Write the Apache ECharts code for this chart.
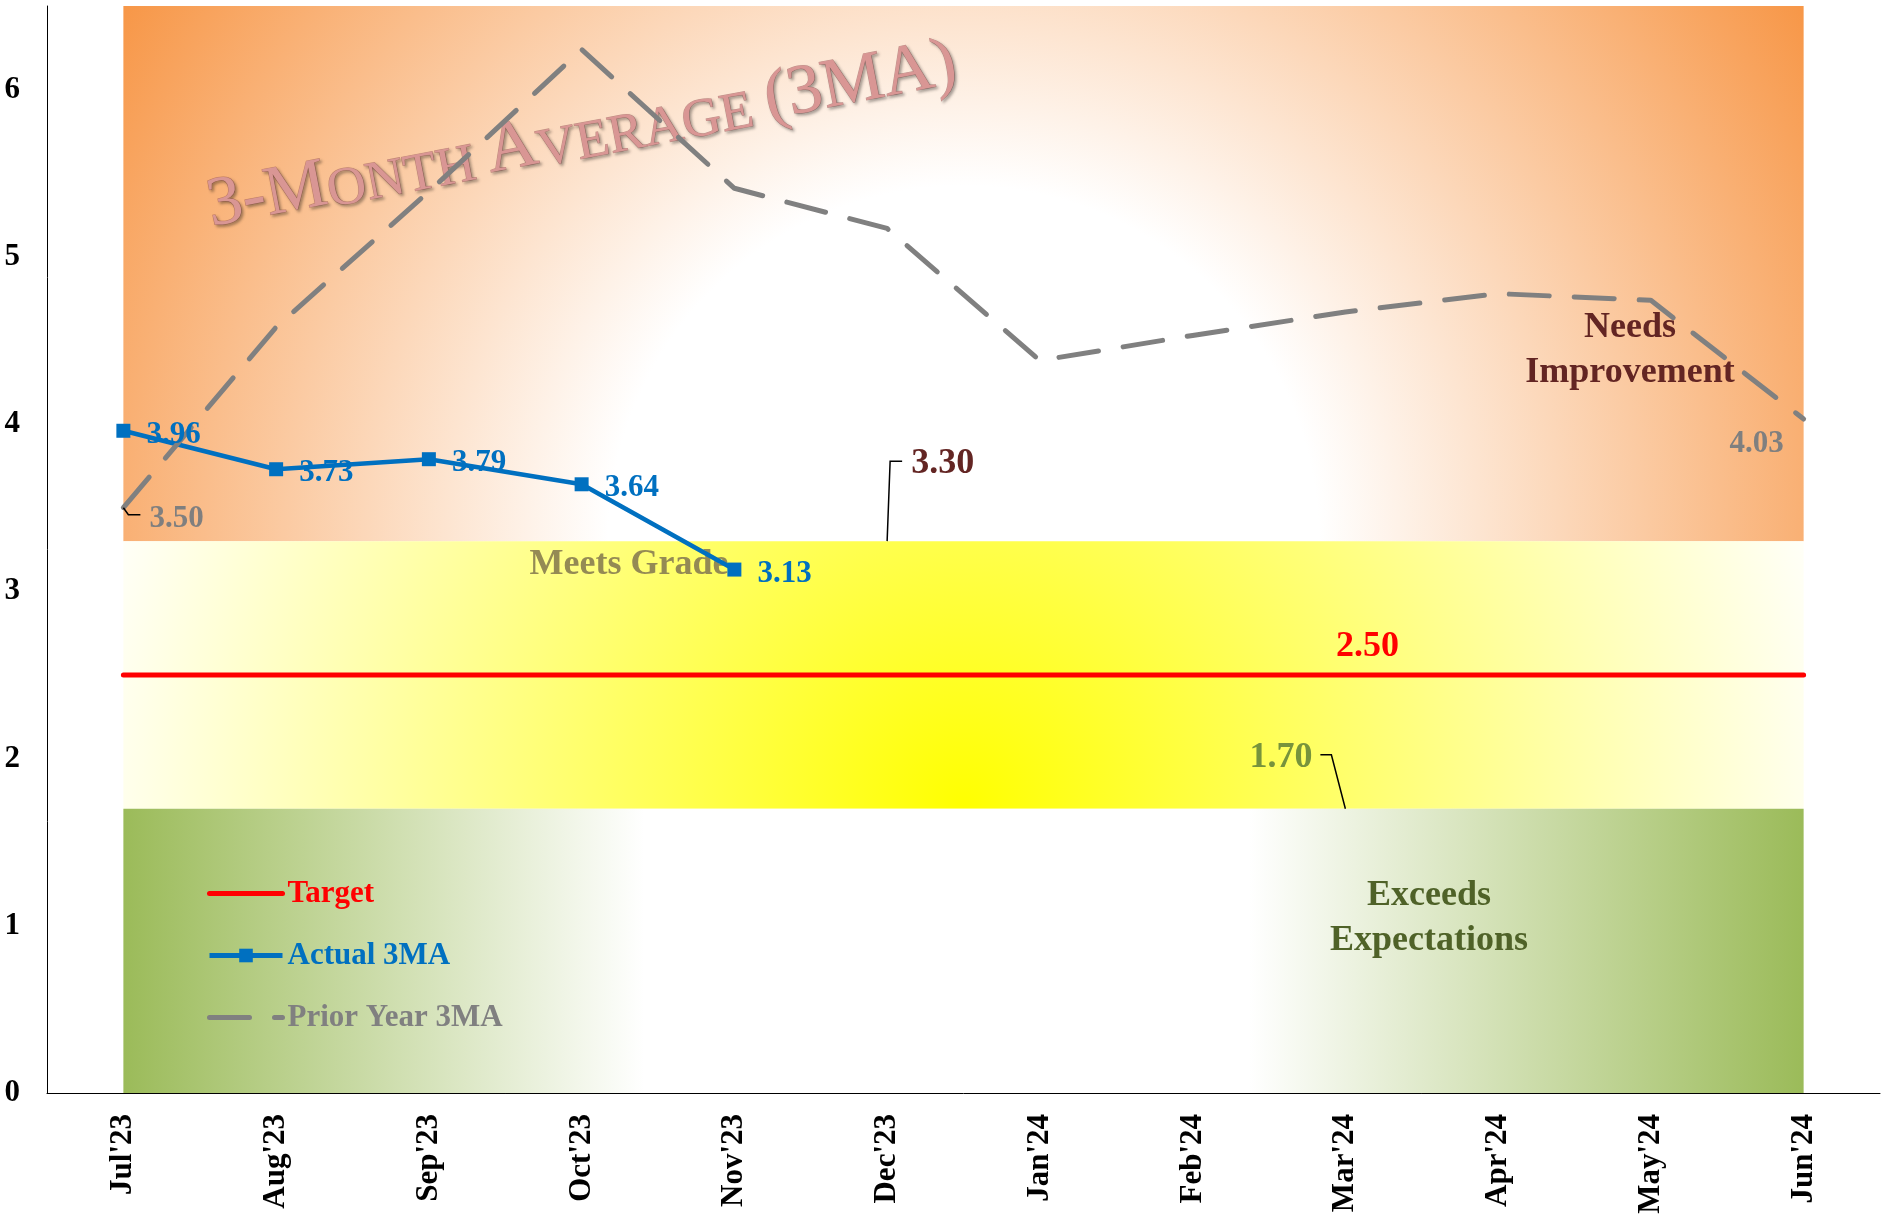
<!DOCTYPE html>
<html lang="en">
<head>
<meta charset="UTF-8">
<title>3-Month Average (3MA)</title>
<script src="https://cdn.jsdelivr.net/npm/echarts@6.0.0/dist/echarts.min.js"></script>
<style>
    html, body { margin: 0; padding: 0; background: #fff; }
</style>
</head>
<body>
<div id="chart" style="width: 1883px; height: 1224px;"></div>
<script>
    // data
    var months = ["Jul'23", "Aug'23", "Sep'23", "Oct'23", "Nov'23", "Dec'23",
                  "Jan'24", "Feb'24", "Mar'24", "Apr'24", "May'24", "Jun'24"];
    var actual3MA = [3.96, 3.73, 3.79, 3.64, 3.13];
    var priorYear3MA = [3.50, 4.58, 5.39, 6.24, 5.41, 5.17, 4.38, 4.53, 4.67, 4.78, 4.74, 4.03];
    var targetValue = 2.50;
    var exceedsLimit = 1.70;     // below: exceeds expectations
    var needsLimit = 3.30;       // above: needs improvement
    var yMax = 6.5;
    var yInterval = 1;

    var serif = "'Liberation Serif', 'Times New Roman', serif";
    var last = months.length - 1;

    var chart = echarts.init(document.getElementById('chart'));

    function fmt(p) {
        var v = typeof p.value === 'object' ? p.value[1] : p.value;
        return Number(v).toFixed(2);
    }

    // target line, label only above Mar'24
    var targetData = months.map(function (m, i) {
        if (i === 8) {
            return {
                value: targetValue,
                label: { show: true, position: 'top', distance: 5, offset: [22, -5] }
            };
        }
        return targetValue;
    });

    // prior year, labels only at first and last point
    var priorData = priorYear3MA.map(function (v, i) {
        if (i === 0) {
            return { value: v, label: { show: true, position: 'right', distance: 26, offset: [0, 11] } };
        }
        if (i === last) {
            return { value: v, label: { show: true, position: 'left', distance: 20, offset: [0, 25] } };
        }
        return v;
    });

    var orangeFill = {
        type: 'radial', x: 0.5, y: 1, r: 1.87,
        colorStops: [
            { offset: 0, color: '#ffffff' },
            { offset: 0.355, color: '#ffffff' },
            { offset: 1, color: '#F79646' }
        ]
    };
    var yellowFill = {
        type: 'radial', x: 0.5, y: 1, r: 3.3,
        colorStops: [
            { offset: 0, color: '#FFFF00' },
            { offset: 1, color: '#FFFFF8' }
        ]
    };
    var greenFill = {
        type: 'linear', x: 0, y: 0, x2: 1, y2: 0,
        colorStops: [
            { offset: 0, color: '#9BBB59' },
            { offset: 0.31, color: '#ffffff' },
            { offset: 0.67, color: '#ffffff' },
            { offset: 1, color: '#9BBB59' }
        ]
    };

    var option = {
        animation: false,
        grid: { left: 47, right: 3, top: 6, bottom: 131, outerBoundsMode: 'none' },
        legend: {
            orient: 'vertical',
            left: 202,
            top: 873,
            itemWidth: 73,
            itemHeight: 17,
            itemGap: 31,
            selectedMode: false,
            textStyle: { fontFamily: serif, fontWeight: 'bold', fontSize: 31 },
            data: [
                { name: 'Target', textStyle: { color: '#FF0000' },
                  lineStyle: { width: 5, color: '#FF0000' } },
                { name: 'Actual 3MA', textStyle: { color: '#0070C0' },
                  lineStyle: { width: 5, color: '#0070C0' } },
                { name: 'Prior Year 3MA', textStyle: { color: '#808080' },
                  lineStyle: { width: 5, color: '#808080', type: [40, 25], cap: 'round' } }
            ]
        },
        xAxis: {
            type: 'category',
            data: months,
            boundaryGap: true,
            axisLine: { lineStyle: { color: '#000', width: 1 } },
            axisTick: { show: false },
            splitLine: { show: false },
            axisLabel: {
                interval: 0, rotate: 90, margin: 21, color: '#000',
                fontFamily: serif, fontWeight: 'bold', fontSize: 31
            }
        },
        yAxis: {
            type: 'value',
            min: 0,
            max: yMax,
            interval: yInterval,
            axisLine: { show: true, lineStyle: { color: '#000', width: 1 } },
            axisTick: { show: false },
            splitLine: { show: false },
            axisLabel: {
                showMaxLabel: false, margin: 27, color: '#000', padding: [6, 0, 0, 0],
                fontFamily: serif, fontWeight: 'bold', fontSize: 31
            }
        },
        series: [
            {
                name: 'bands',
                type: 'line',
                data: [],
                silent: true,
                markArea: {
                    silent: true,
                    label: { show: false },
                    data: [
                        [{ xAxis: months[0], yAxis: needsLimit, itemStyle: { color: orangeFill } },
                         { xAxis: months[last], yAxis: yMax }],
                        [{ xAxis: months[0], yAxis: exceedsLimit, itemStyle: { color: yellowFill } },
                         { xAxis: months[last], yAxis: needsLimit }],
                        [{ xAxis: months[0], yAxis: 0, itemStyle: { color: greenFill } },
                         { xAxis: months[last], yAxis: exceedsLimit }]
                    ]
                }
            },
            {
                name: 'Target',
                type: 'line',
                data: targetData,
                symbol: 'circle',
                symbolSize: 0,
                showSymbol: true,
                itemStyle: { color: 'transparent' },
                lineStyle: { color: '#FF0000', width: 5, cap: 'round' },
                label: {
                    show: false, formatter: fmt, color: '#FF0000',
                    fontFamily: serif, fontWeight: 'bold', fontSize: 36
                }
            },
            {
                name: 'Actual 3MA',
                type: 'line',
                data: actual3MA,
                symbol: 'rect',
                symbolSize: 14,
                itemStyle: { color: '#0070C0' },
                lineStyle: { color: '#0070C0', width: 4.5 },
                label: {
                    show: true, position: 'right', distance: 16, offset: [0, 4],
                    formatter: fmt, color: '#0070C0',
                    fontFamily: serif, fontWeight: 'bold', fontSize: 31
                }
            },
            {
                name: 'Prior Year 3MA',
                type: 'line',
                data: priorData,
                symbol: 'circle',
                symbolSize: 0,
                showSymbol: true,
                itemStyle: { color: 'transparent' },
                lineStyle: { color: '#808080', width: 5, type: [40, 25], cap: 'round', join: 'round' },
                label: {
                    show: false, formatter: fmt, color: '#7F7F7F',
                    fontFamily: serif, fontWeight: 'bold', fontSize: 31
                }
            }
        ]
    };

    chart.setOption(option);

    // annotations: leader lines and band captions
    function px(month, v) {
        return chart.convertToPixel({ gridIndex: 0 }, [month, v]);
    }
    var pNeeds = px(months[5], needsLimit);
    var pExceeds = px(months[8], exceedsLimit);
    var pJul = px(months[0], priorYear3MA[0]);

    function leader(points) {
        return {
            type: 'polyline', z: 5, silent: true,
            shape: { points: points },
            style: { stroke: '#000', lineWidth: 1.5, fill: null }
        };
    }
    function caption(x, y, text, color, size, align) {
        return {
            type: 'text', x: x, y: y + 3, z: 1.5, silent: true,
            style: {
                text: text, fill: color, align: align || 'center', verticalAlign: 'middle',
                fontFamily: serif, fontWeight: 'bold', fontSize: size, lineHeight: 45
            }
        };
    }

    var wmShadow = {
        fontFamily: serif, fill: '#D99694', verticalAlign: 'bottom',
        stroke: 'rgba(150,80,80,0.55)', lineWidth: 1,
        textShadowColor: 'rgba(0,0,0,0.35)', textShadowBlur: 3,
        textShadowOffsetX: 2, textShadowOffsetY: 2
    };

    chart.setOption({
        graphic: [
            {
                type: 'text', x: 582, y: 136, rotation: 0.19, z: 1.5, silent: true,
                style: {
                    text: '{b|3-M}{s|ONTH }{b|A}{s|VERAGE }{b|(3MA)}',
                    align: 'center', verticalAlign: 'middle',
                    fill: '#D99694',
                    rich: {
                        b: Object.assign({ fontSize: 70 }, wmShadow),
                        s: Object.assign({ fontSize: 54 }, wmShadow)
                    }
                }
            },
            caption(1630, 347, 'Needs\nImprovement', '#632523', 36),
            caption(629, 562, 'Meets Grade', '#948A54', 36),
            caption(1429, 915, 'Exceeds\nExpectations', '#4F6228', 36),
            leader([[pNeeds[0], pNeeds[1]], [pNeeds[0] + 3, pNeeds[1] - 80], [pNeeds[0] + 15, pNeeds[1] - 80]]),
            caption(pNeeds[0] + 24, pNeeds[1] - 80, needsLimit.toFixed(2), '#632523', 36, 'left'),
            leader([[pExceeds[0], pExceeds[1]], [pExceeds[0] - 14, pExceeds[1] - 54], [pExceeds[0] - 25, pExceeds[1] - 54]]),
            caption(pExceeds[0] - 33, pExceeds[1] - 54, exceedsLimit.toFixed(2), '#77933C', 36, 'right'),
            leader([[pJul[0], pJul[1]], [pJul[0] + 5, pJul[1] + 7], [pJul[0] + 17, pJul[1] + 7]])
        ]
    });
</script>
</body>
</html>
